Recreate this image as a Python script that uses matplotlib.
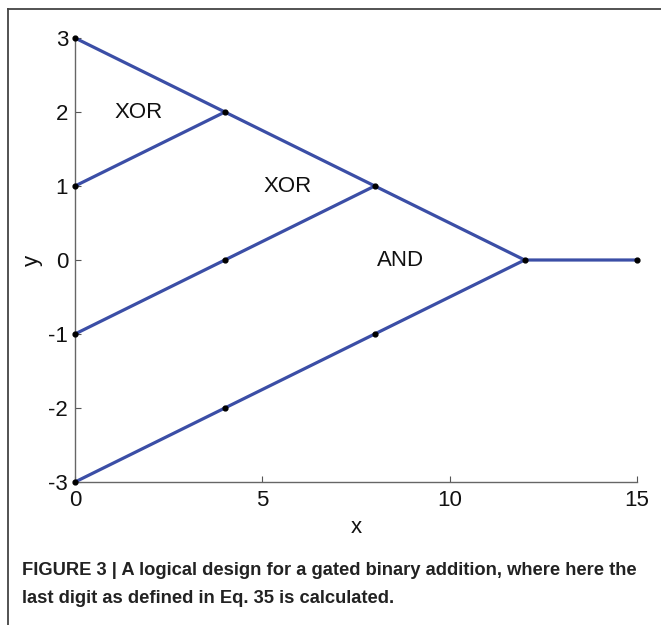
import matplotlib
matplotlib.use("Agg")
import matplotlib.pyplot as plt
from matplotlib.lines import Line2D

# Wire paths of the gate network (each path is a polyline of nodes)
path_x = [
    [0, 4, 8, 12, 15],
    [0, 4],
    [0, 4, 8],
    [0, 4, 8, 12],
]
path_y = [
    [3, 2, 1, 0, 0],
    [1, 2],
    [-1, 0, 1],
    [-3, -2, -1, 0],
]

# Node positions
node_x = [0, 4, 8, 12, 15, 0, 0, 4, 0, 4, 8]
node_y = [3, 2, 1, 0, 0, 1, -1, 0, -3, -2, -1]

# Gate labels
gate_names = ["XOR", "XOR", "AND"]
gate_x = [1.7, 5.68, 8.7]
gate_y = [2.0, 1.0, 0.0]

x_ticks = [0, 5, 10, 15]
y_ticks = [-3, -2, -1, 0, 1, 2, 3]

caption_lines = [
    "FIGURE 3 | A logical design for a gated binary addition, where here the",
    "last digit as defined in Eq. 35 is calculated.",
]

plt.rcParams["font.family"] = ["Liberation Sans", "DejaVu Sans"]
plt.rcParams["axes.unicode_minus"] = False

fig = plt.figure(figsize=(6.61, 6.25), dpi=100)
ax = fig.add_axes([0.1135, 0.2288, 0.9637 - 0.1135, 0.9392 - 0.2288])

line_color = "#3b4ea6"
for xs, ys in zip(path_x, path_y):
    ax.plot(xs, ys, color=line_color, lw=2.3, solid_capstyle="round", zorder=2)
ax.scatter(node_x, node_y, s=12, color="black", zorder=3, clip_on=False)

for name, gx, gy in zip(gate_names, gate_x, gate_y):
    ax.text(gx, gy, name, fontsize=16, ha="center", va="center", color="#111111")

ax.set_xlim(0, 15)
ax.set_ylim(-3, 3)
ax.set_xticks(x_ticks)
ax.set_yticks(y_ticks)
ax.tick_params(direction="in", length=4, width=0.8, labelsize=16, colors="#555555",
               labelcolor="#111111")
ax.tick_params(axis="x", pad=6)
ax.tick_params(axis="y", pad=5)
for side in ("top", "right"):
    ax.spines[side].set_visible(False)
for side in ("left", "bottom"):
    ax.spines[side].set_color("#666666")
    ax.spines[side].set_linewidth(1.0)
ax.set_xlabel("x", fontsize=16, color="#111111", labelpad=4)
ax.set_ylabel("y", fontsize=16, color="#111111", labelpad=4)

# Outer panel frame (left and top edges)
frame_color = "#444444"
fig.add_artist(Line2D([8 / 661, 8 / 661], [0, 1 - 9 / 625], transform=fig.transFigure,
                      color=frame_color, lw=1.3))
fig.add_artist(Line2D([8 / 661, 1], [1 - 9 / 625, 1 - 9 / 625], transform=fig.transFigure,
                      color=frame_color, lw=1.3))

caption_font = ["Liberation Sans Narrow", "Liberation Sans", "DejaVu Sans"]
fig.text(22 / 661, 1 - 575 / 625, caption_lines[0], fontsize=13.2, fontweight="bold",
         family=caption_font, color="#222222", va="baseline")
fig.text(22 / 661, 1 - 603 / 625, caption_lines[1], fontsize=13.2, fontweight="bold",
         family=caption_font, color="#222222", va="baseline")

fig.savefig("out.png", dpi=100)
